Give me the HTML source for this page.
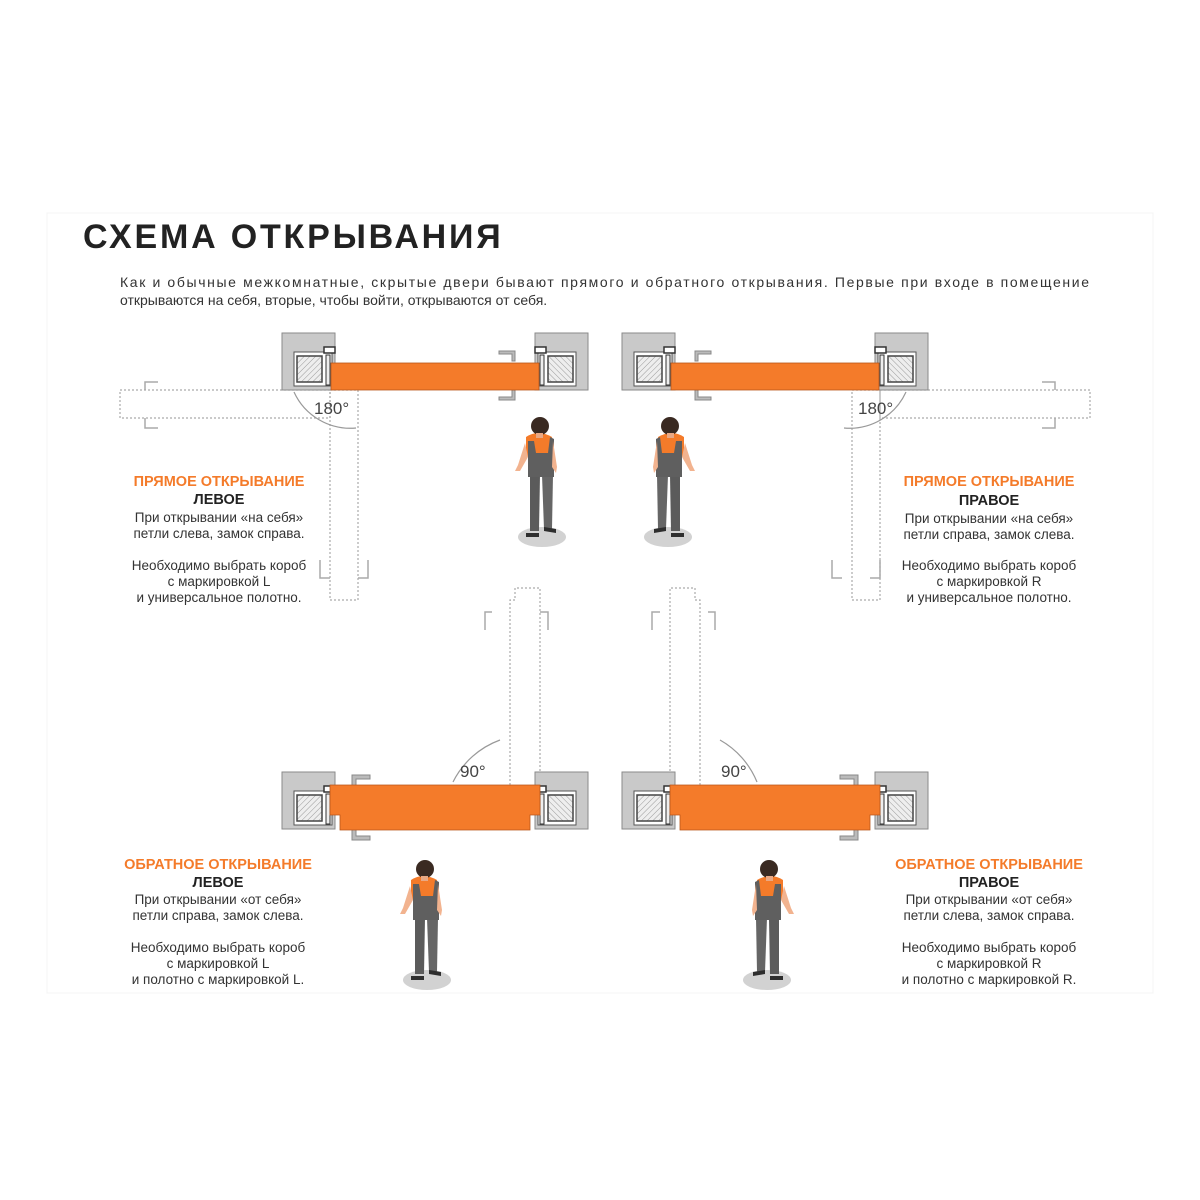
<!DOCTYPE html>
<html><head><meta charset="utf-8"><style>
html,body{margin:0;padding:0;background:#fff;}
body{width:1200px;height:1200px;position:relative;overflow:hidden;font-family:"Liberation Sans",sans-serif;}
svg{position:absolute;left:0;top:0;}
</style></head><body>
<svg width="1200" height="1200" viewBox="0 0 1200 1200" xmlns="http://www.w3.org/2000/svg">
<defs>
<pattern id="h" width="4" height="4" patternUnits="userSpaceOnUse" patternTransform="rotate(45)">
<rect width="4" height="4" fill="#eee"/><line x1="0" y1="0" x2="0" y2="4" stroke="#999" stroke-width="1"/>
</pattern>
<g id="fr">
<rect x="0" y="0" width="53" height="57" fill="#c9c9c9" stroke="#8a8a8a" stroke-width="1"/>
<rect x="12" y="19" width="38" height="34" fill="#fff" stroke="#555"/>
<rect x="15" y="23" width="25" height="26" fill="url(#h)" stroke="#444" stroke-width="1.5"/>
<rect x="42" y="14" width="11" height="6" fill="#fff" stroke="#333" stroke-width="1.5"/>
<rect x="44" y="22" width="4" height="30" fill="#eee" stroke="#333"/>
</g>
<g id="p">
<ellipse cx="0" cy="0" rx="24" ry="10" fill="#d2d2d2"/>
<path d="M-12 -62 L-2 -62 L-3 -6 L-12 -6 Z" fill="#5b5b5b"/>
<path d="M0 -62 L11 -62 L10 -8 L2 -8 Z" fill="#666"/>
<path d="M-16 -4 L-3 -4 L-3 0 L-16 0 Z" fill="#2e2e2e"/>
<path d="M2 -10 L14 -8 L14 -4 L2 -6 Z" fill="#2e2e2e"/>
<path d="M-16 -100 Q-4 -108 10 -100 L12 -82 L-16 -80 Z" fill="#f47b2a"/>
<path d="M-14 -96 L-8 -96 L-6 -84 L6 -84 L8 -100 L12 -98 L12 -60 L-14 -60 Z" fill="#5f5f5f"/>
<path d="M-17 -94 L-24 -72 L-27 -66 L-22 -66 L-14 -80 Z" fill="#f2b38f"/>
<path d="M11 -96 L15 -70 L14 -64 L10 -70 Z" fill="#f2b38f"/>
<circle cx="-2" cy="-111" r="9" fill="#3a2a22"/>
<rect x="-6" y="-104" width="7" height="5" fill="#e9a884"/>
</g>
</defs>

<rect x="47" y="213" width="1106" height="780" fill="none" stroke="#f4f4f4" stroke-width="1"/>

<text x="83" y="248" font-size="34" font-weight="bold" fill="#222" letter-spacing="2.8">СХЕМА ОТКРЫВАНИЯ</text>
<text x="120" y="287" font-size="14" fill="#333" textLength="969" lengthAdjust="spacing">Как и обычные межкомнатные, скрытые двери бывают прямого и обратного открывания. Первые при входе в помещение</text>
<text x="120" y="305" font-size="14" fill="#333">открываются на себя, вторые, чтобы войти, открываются от себя.</text>

<g fill="none" stroke="#aaa" stroke-width="1.2" stroke-dasharray="2,2">
<rect x="120" y="390" width="210" height="28"/>
<rect x="330" y="390" width="28" height="210"/>
<rect x="880" y="390" width="210" height="28"/>
<rect x="852" y="390" width="28" height="210"/>
<path d="M510 785 V600 H515 V588 H540 V785"/>
<path d="M700 785 V600 H695 V588 H670 V785"/>
</g>
<g fill="none" stroke="#aaa" stroke-width="1.5">
<path d="M158 382 H145 V390 M158 428 H145 V418"/>
<path d="M320 560 V578 H330 M368 560 V578 H358"/>
<path d="M1042 382 H1055 V390 M1042 428 H1055 V418"/>
<path d="M880 560 V578 H870 M832 560 V578 H842"/>
<path d="M485 630 V612 H492 M548 630 V612 H540"/>
<path d="M715 630 V612 H708 M652 630 V612 H660"/>
</g>
<g fill="none" stroke="#999" stroke-width="1.2">
<path d="M294 392 A62 62 0 0 0 356 428"/>
<path d="M906 392 A62 62 0 0 1 844 428"/>
<path d="M453 782 A85 85 0 0 1 500 740"/>
<path d="M757 782 A85 85 0 0 0 720 740"/>
</g>
<text x="314" y="414" font-size="17" fill="#444">180°</text>
<text x="858" y="414" font-size="17" fill="#444">180°</text>
<text x="460" y="777" font-size="17" fill="#444">90°</text>
<text x="721" y="777" font-size="17" fill="#444">90°</text>

<use href="#fr" transform="translate(282,333)"/>
<use href="#fr" transform="translate(588,333) scale(-1,1)"/>
<use href="#fr" transform="translate(622,333)"/>
<use href="#fr" transform="translate(928,333) scale(-1,1)"/>
<use href="#fr" transform="translate(282,772)"/>
<use href="#fr" transform="translate(588,772) scale(-1,1)"/>
<use href="#fr" transform="translate(622,772)"/>
<use href="#fr" transform="translate(928,772) scale(-1,1)"/>

<g fill="#bbb" stroke="#888" stroke-width="1">
<path d="M499 351 h16 v10 h-3 v-7 h-13 z M499 400 h16 v-10 h-3 v7 h-13 z"/>
<path d="M711 351 h-16 v10 h3 v-7 h13 z M711 400 h-16 v-10 h3 v7 h13 z"/>
<path d="M352 775 h18 v4 h-14 v8 h-4 z M352 840 h18 v-4 h-14 v-8 h-4 z"/>
<path d="M858 775 h-18 v4 h14 v8 h4 z M858 840 h-18 v-4 h14 v-8 h4 z"/>
</g>

<g fill="#f47b2a" stroke="#b9561a" stroke-width="0.8">
<rect x="331" y="363" width="208" height="27"/>
<rect x="671" y="363" width="208" height="27"/>
<path d="M330 785 H540 V815 H530 V830 H340 V815 H330 Z"/>
<path d="M670 785 H880 V815 H870 V830 H680 V815 H670 Z"/>
</g>

<use href="#p" transform="translate(542,537)"/>
<use href="#p" transform="translate(668,537) scale(-1,1)"/>
<use href="#p" transform="translate(427,980)"/>
<use href="#p" transform="translate(767,980) scale(-1,1)"/>

<g font-size="13.5" fill="#333" text-anchor="middle">
<text x="219" y="486" font-size="14.5" font-weight="bold" fill="#f47b2a">ПРЯМОЕ ОТКРЫВАНИЕ</text>
<text x="219" y="504" font-size="14.5" font-weight="bold" fill="#222">ЛЕВОЕ</text>
<text x="219" y="522">При открывании «на себя»</text>
<text x="219" y="538">петли слева, замок справа.</text>
<text x="219" y="570">Необходимо выбрать короб</text>
<text x="219" y="586">с маркировкой L</text>
<text x="219" y="602">и универсальное полотно.</text>

<text x="989" y="486" font-size="14.5" font-weight="bold" fill="#f47b2a">ПРЯМОЕ ОТКРЫВАНИЕ</text>
<text x="989" y="505" font-size="14.5" font-weight="bold" fill="#222">ПРАВОЕ</text>
<text x="989" y="523">При открывании «на себя»</text>
<text x="989" y="539">петли справа, замок слева.</text>
<text x="989" y="570">Необходимо выбрать короб</text>
<text x="989" y="586">с маркировкой R</text>
<text x="989" y="602">и универсальное полотно.</text>

<text x="218" y="869" font-size="14.5" font-weight="bold" fill="#f47b2a">ОБРАТНОЕ ОТКРЫВАНИЕ</text>
<text x="218" y="887" font-size="14.5" font-weight="bold" fill="#222">ЛЕВОЕ</text>
<text x="218" y="904">При открывании «от себя»</text>
<text x="218" y="920">петли справа, замок слева.</text>
<text x="218" y="952">Необходимо выбрать короб</text>
<text x="218" y="968">с маркировкой L</text>
<text x="218" y="984">и полотно с маркировкой L.</text>

<text x="989" y="869" font-size="14.5" font-weight="bold" fill="#f47b2a">ОБРАТНОЕ  ОТКРЫВАНИЕ</text>
<text x="989" y="887" font-size="14.5" font-weight="bold" fill="#222">ПРАВОЕ</text>
<text x="989" y="904">При открывании «от себя»</text>
<text x="989" y="920">петли слева, замок справа.</text>
<text x="989" y="952">Необходимо выбрать короб</text>
<text x="989" y="968">с маркировкой R</text>
<text x="989" y="984">и полотно с маркировкой R.</text>
</g>
</svg>
</body></html>
